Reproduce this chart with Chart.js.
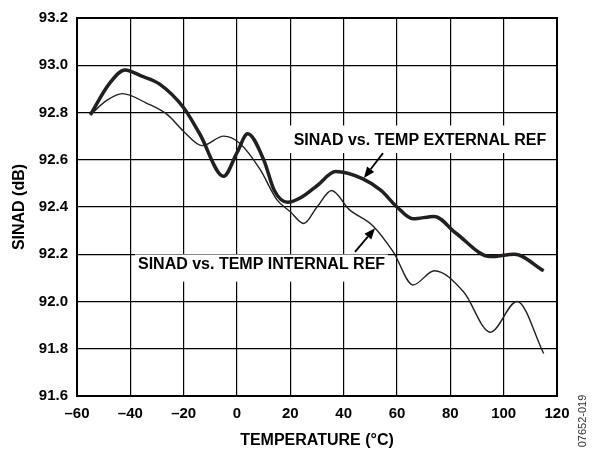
<!DOCTYPE html>
<html><head><meta charset="utf-8">
<script src="https://cdn.jsdelivr.net/npm/chart.js@4"></script>
<style>html,body{margin:0;padding:0;background:#fff}#wrap{width:604px;height:452px}</style>
</head><body><div id="wrap"><canvas id="c" width="604" height="452"></canvas></div>
<script>
const extTemps = [-55,-48,-42,-36,-29,-20,-14,-5,0,4,10,14,19,24,30,37,47,54,60,66,74,82,95,104,115];
const extSinad = [92.79,92.92,92.98,92.955,92.92,92.82,92.71,92.53,92.63,92.71,92.60,92.47,92.42,92.44,92.49,92.55,92.52,92.47,92.40,92.35,92.36,92.29,92.19,92.20,92.13];
const intTemps = [-55,-49,-43,-34,-26,-20,-13,-5,1,8.6,15,20,25,30,35.5,42,51,58.6,66,74,85,95,105,115];
const intSinad = [92.79,92.85,92.88,92.84,92.79,92.72,92.66,92.70,92.67,92.56,92.43,92.38,92.33,92.40,92.47,92.39,92.32,92.21,92.07,92.13,92.04,91.87,92.00,91.78];
const xTicks = [-60,-40,-20,0,20,40,60,80,100,120];
const yTicks = [91.6,91.8,92.0,92.2,92.4,92.6,92.8,93.0,93.2];
const labelExt = "SINAD vs. TEMP EXTERNAL REF";
const labelInt = "SINAD vs. TEMP INTERNAL REF";
const xTitle = "TEMPERATURE (°C)";
const yTitle = "SINAD (dB)";
const figId = "07652-019";

const pts = (xs, ys) => xs.map((x, i) => ({x, y: ys[i]}));
const FONT = "'Liberation Sans', Arial, sans-serif";

const annot = {
  id: 'annot',
  beforeDatasetsDraw(chart) {
    const {ctx, scales: {x, y}} = chart;
    ctx.save();
    ctx.fillStyle = '#fff';
    let x0 = x.getPixelForValue(17.25), x1 = x.getPixelForValue(119.0);
    let y0 = y.getPixelForValue(92.745), y1 = y.getPixelForValue(92.628);
    ctx.fillRect(x0, y0, x1 - x0, y1 - y0);
    x0 = x.getPixelForValue(-38.25); x1 = x.getPixelForValue(56.6);
    y0 = y.getPixelForValue(92.199); y1 = y.getPixelForValue(92.084);
    ctx.fillRect(x0, y0, x1 - x0, y1 - y0);
    ctx.restore();
  },
  afterDatasetsDraw(chart) {
    const {ctx, scales: {x, y}, chartArea: a} = chart;
    ctx.save();
    ctx.fillStyle = '#000';
    ctx.font = "bold 16px " + FONT;
    ctx.textAlign = 'center';
    ctx.textBaseline = 'middle';
    ctx.fillText(labelExt, x.getPixelForValue(68.6), y.getPixelForValue(92.682));
    ctx.fillText(labelInt, x.getPixelForValue(9.2), y.getPixelForValue(92.155));
    const arrow = (tx, ty, hx, hy) => {
      const X0 = x.getPixelForValue(tx), Y0 = y.getPixelForValue(ty);
      const X1 = x.getPixelForValue(hx), Y1 = y.getPixelForValue(hy);
      const ang = Math.atan2(Y1 - Y0, X1 - X0);
      const L = 11, W = 4.5;
      const bx = X1 - L * Math.cos(ang), by = Y1 - L * Math.sin(ang);
      ctx.strokeStyle = '#000'; ctx.lineWidth = 1.8;
      ctx.beginPath(); ctx.moveTo(X0, Y0); ctx.lineTo(bx, by); ctx.stroke();
      ctx.beginPath();
      ctx.moveTo(X1, Y1);
      ctx.lineTo(bx + W * Math.sin(ang), by - W * Math.cos(ang));
      ctx.lineTo(bx - W * Math.sin(ang), by + W * Math.cos(ang));
      ctx.closePath(); ctx.fill();
    };
    arrow(54.75, 92.628, 47.6, 92.523);
    arrow(44.25, 92.21, 51.75, 92.31);
    ctx.strokeStyle = '#000'; ctx.lineWidth = 2;
    ctx.strokeRect(a.left, a.top, a.right - a.left, a.bottom - a.top);
    ctx.translate(583, 421);
    ctx.rotate(-Math.PI / 2);
    ctx.font = "11px " + FONT;
    ctx.fillStyle = '#333';
    ctx.fillText(figId, 0, 0);
    ctx.restore();
  }
};

new Chart(document.getElementById('c'), {
  type: 'line',
  data: {
    datasets: [
      {data: pts(extTemps, extSinad), borderColor: '#231f20', borderWidth: 3.5, pointRadius: 0, cubicInterpolationMode: 'monotone', fill: false},
      {data: pts(intTemps, intSinad), borderColor: '#231f20', borderWidth: 1.4, pointRadius: 0, cubicInterpolationMode: 'monotone', fill: false}
    ]
  },
  options: {
    responsive: false, animation: false, devicePixelRatio: 1,
    layout: {padding: {left: 0, right: 47, top: 13, bottom: 0}},
    plugins: {legend: {display: false}, tooltip: {enabled: false}},
    scales: {
      x: {
        type: 'linear', min: -60, max: 120,
        afterBuildTicks(s) { s.ticks = xTicks.map(v => ({value: v})); },
        afterFit(s) { s.height = 56; },
        grid: {color: '#000', lineWidth: 1.2, drawTicks: false},
        border: {display: false},
        ticks: {color: '#000', padding: 9, font: {family: FONT, size: 15, weight: 'bold'},
          callback: v => (v < 0 ? '\u2013' + Math.abs(v) : String(v))},
        title: {display: true, text: xTitle, color: '#000', font: {family: FONT, size: 16, weight: 'bold'}, padding: {top: 0, bottom: 2}}
      },
      y: {
        type: 'linear', min: 91.6, max: 93.2,
        afterBuildTicks(s) { s.ticks = yTicks.map(v => ({value: v})); },
        afterFit(s) { s.width = 77; },
        grid: {color: '#000', lineWidth: 1.2, drawTicks: false},
        border: {display: false},
        ticks: {color: '#000', padding: 9, font: {family: FONT, size: 15, weight: 'bold'},
          callback: v => Number(v).toFixed(1)},
        title: {display: true, text: yTitle, color: '#000', font: {family: FONT, size: 16, weight: 'bold'}, padding: {top: 10, bottom: 0}}
      }
    }
  },
  plugins: [annot]
});
</script>
</body></html>
